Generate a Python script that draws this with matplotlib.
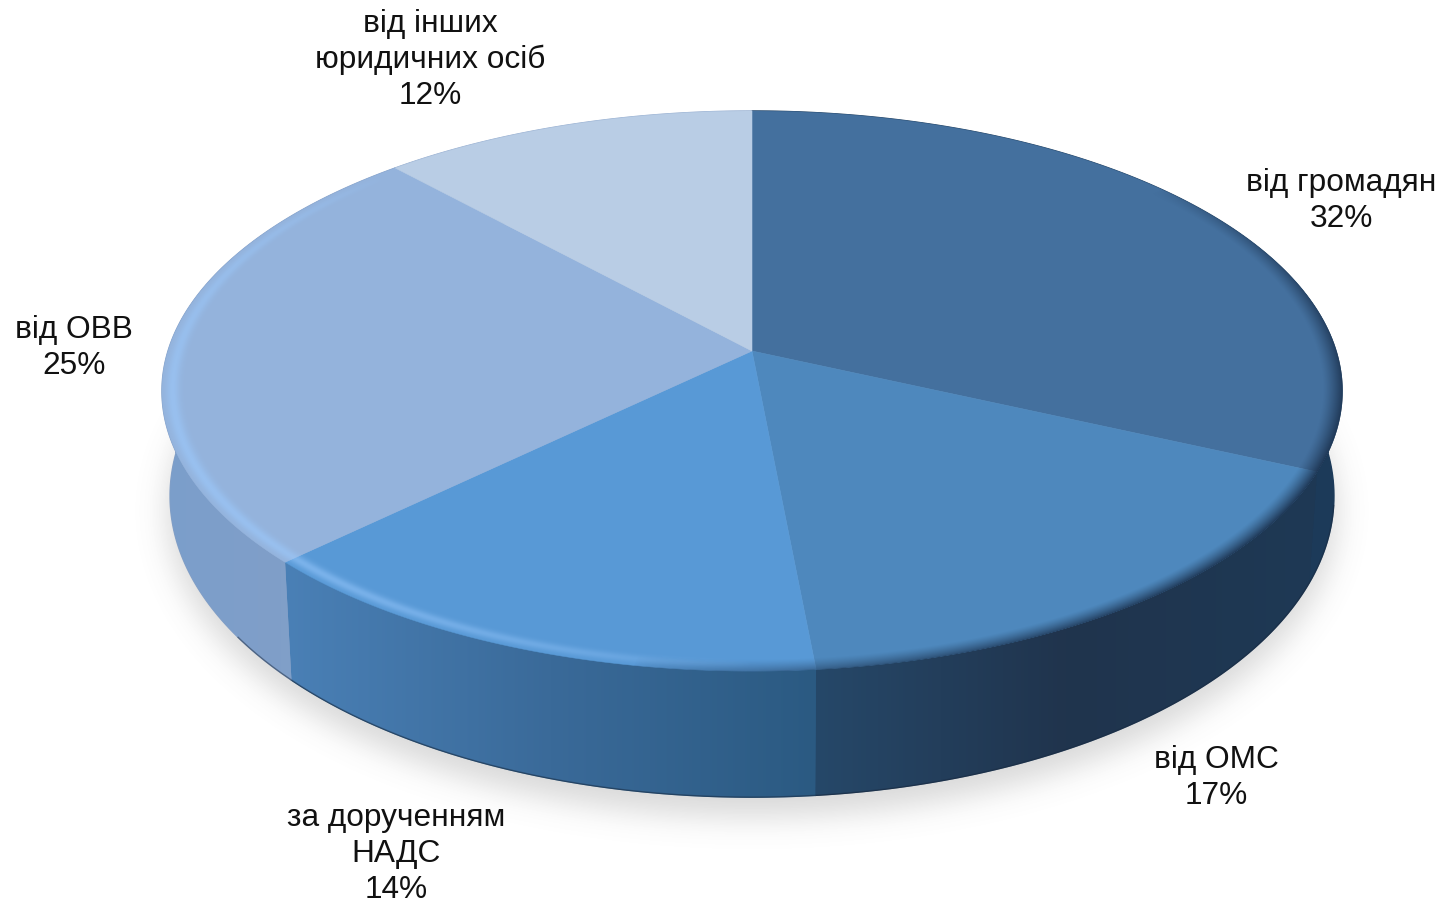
#!/usr/bin/env python3
"""3D style pie chart drawn on a pixel-sized axes"""

import numpy as np
import matplotlib
matplotlib.use('Agg')
import matplotlib.pyplot as plt
from matplotlib.colors import to_rgb
from matplotlib.patches import Polygon

labels = ['від громадян', 'від ОМС', 'за дорученням\nНАДС', 'від ОВВ', 'від інших\nюридичних осіб']
values = [31.8, 16.7, 14.3, 25.4, 11.8]

top_colors = ['#44709E', '#4E88BD', '#5899D6', '#94B3DC', '#B9CDE5']
# wall colours, listed from left to right on screen
wall_colors = [
    ['#1D3A58', '#1C3B5A'],
    ['#264869', '#20344D', '#1E3955'],
    ['#4A80B6', '#3A6A99', '#2B5A82'],
    ['#7B9ECB', '#85A0C6'],
    ['#8FA8CC', '#8FA8CC'],
]
label_pos = [(1341, 201), (1216, 778), (396, 854), (74, 348), (430, 60)]

CX = 752
CY = 352.0
TOP_A = 274.3
TOP_C = 584.0
B = 1 / 7


def project(t, s=1.0, a=TOP_A, c=TOP_C, cy=CY):
    """Clockwise angle from the top (degrees) to pixel position"""
    t = np.radians(t)
    u, v = np.sin(t), np.cos(t)
    w = 1 + B * s * v
    return CX + c * s * u / w, cy - a * s * v / w


def project_bottom(t):
    return project(t, a=295.0, c=576.0, cy=454.0)


def bevel_layer(ax, s, alpha, color, zorder):
    """Put a colour with per pixel alpha over the top face"""
    rgba = np.zeros(s.shape + (4,))
    rgba[..., :3] = to_rgb(color)
    rgba[..., 3] = np.clip(alpha, 0, 1) * np.clip((1.002 - s) * 500, 0, 1)
    ax.imshow(rgba, extent=(0, 1442, 903, 0), aspect='auto', zorder=zorder, interpolation='bilinear')


plt.rcParams['font.family'] = ['Liberation Sans', 'DejaVu Sans']

fig = plt.figure(figsize=(14.42, 9.03), dpi=100)
ax = fig.add_axes([0, 0, 1, 1])
ax.axis('off')

# soft shadow under the disc
yy, xx = np.mgrid[0:903, 0:1442] + 0.5
shadow = (((xx - CX) / 585.0) ** 2 + ((yy - 512.0) / 306.0) ** 2 < 1).astype(float)
kernel = np.exp(-np.arange(-45, 46) ** 2 / (2 * 15.0 ** 2))
kernel /= kernel.sum()
shadow = np.apply_along_axis(lambda r: np.convolve(r, kernel, mode='same'), 0, shadow)
shadow = np.apply_along_axis(lambda r: np.convolve(r, kernel, mode='same'), 1, shadow)
rgba = np.zeros((903, 1442, 4))
rgba[..., :3] = 0.45
rgba[..., 3] = shadow * 0.27
ax.imshow(rgba, extent=(0, 1442, 903, 0), aspect='auto', zorder=1)

edges = np.concatenate([[0], np.cumsum(values)]) / sum(values) * 360

# side walls, each with a horizontal gradient
for i in range(len(values)):
    ts = np.linspace(edges[i], edges[i + 1], 120)
    xt, yt = project(ts)
    xb, yb = project_bottom(ts)
    pts = np.column_stack([np.r_[xt, xb[::-1]], np.r_[yt, yb[::-1]]])
    rgb = np.array([to_rgb(c) for c in wall_colors[i]])
    # plain fill underneath so no white seams show between the walls
    ax.add_patch(Polygon(pts, closed=True, fc=rgb[-1], ec=rgb[-1], lw=1.0, zorder=1.9))
    pos = np.linspace(0, 1, len(rgb))
    frac = np.linspace(0, 1, 256)
    grad = np.column_stack([np.interp(frac, pos, rgb[:, k]) for k in range(3)])[None, :, :]
    im = ax.imshow(grad, extent=(pts[:, 0].min(), pts[:, 0].max(), 903, 0), aspect='auto',
                   zorder=2, interpolation='bilinear')
    im.set_clip_path(Polygon(pts, closed=True, transform=ax.transData))

# thin dark line on the bottom edge
ts = np.linspace(100, 235, 200)
xb, yb = project_bottom(ts)
ax.plot(xb, yb, color='#1A2A40', lw=1.0, alpha=0.5, zorder=3)

# top face
for i in range(len(values)):
    ts = np.linspace(edges[i], edges[i + 1], 200)
    x, y = project(ts)
    ax0, ay0 = project(0.0, s=0.0)
    pts = np.column_stack([np.r_[ax0, x], np.r_[ay0, y]])
    ax.add_patch(Polygon(pts, closed=True, fc=top_colors[i], ec=top_colors[i], lw=0.4, zorder=4))

# bevel: invert the projection so every pixel knows its radius and angle
py = (CY - yy) / TOP_A
vv = py / (1 - B * py)
uu = (xx - CX) / TOP_C * (1 + B * vv)
rad = np.hypot(uu, vv)
ang = np.degrees(np.arctan2(uu, vv)) % 360

light = np.clip(np.sin(np.radians((ang - 180) * 180 / 135)), 0, 1) ** 0.6
light[(ang < 180) | (ang > 315)] = 0
bevel_layer(ax, rad, 0.55 * light * np.exp(-((rad - 0.982) / 0.011) ** 2), '#9CCBFF', 5)

dark = np.clip(np.sin(np.radians((ang - 50) * 180 / 140)), 0, 1) ** 0.6
dark[(ang < 50) | (ang > 190)] = 0
bevel_layer(ax, rad, 0.9 * dark * np.clip((rad - 0.968) / 0.032, 0, 1) ** 1.3, '#1C3350', 5)

# labels
for label, value, (x, y) in zip(labels, values, label_pos):
    ax.text(x, y, f'{label}\n{value:.0f}%', ha='center', va='center', fontsize=22.8,
            color='#111111', linespacing=1.24, zorder=6)

ax.set_xlim(0, 1442)
ax.set_ylim(903, 0)
fig.savefig('out.png', dpi=100, facecolor='white')
